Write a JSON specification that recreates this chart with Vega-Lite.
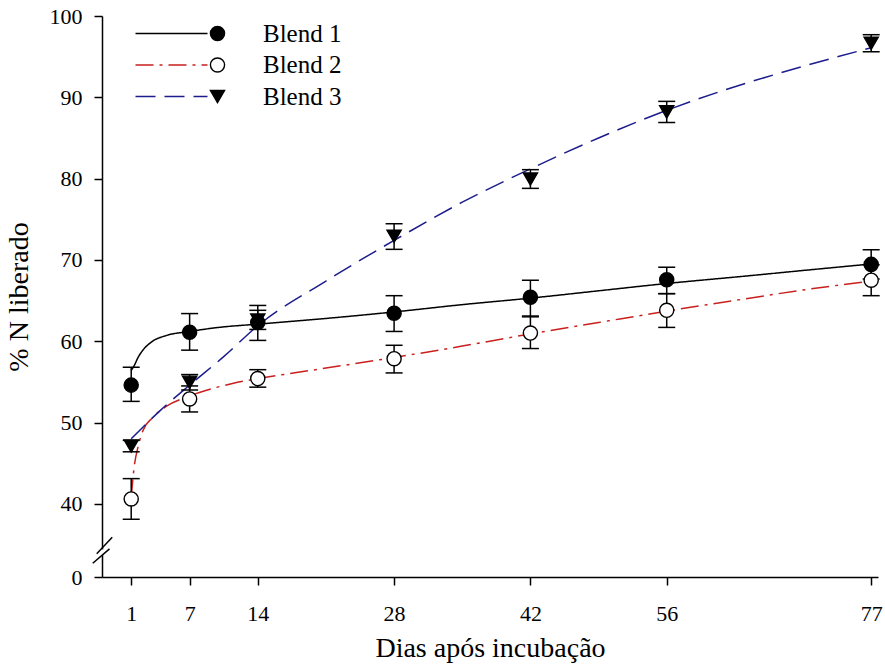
{
  "$schema": "https://vega.github.io/schema/vega-lite/v6.json",
  "width": 776,
  "height": 561,
  "autosize": {"type": "none"},
  "padding": {"left": 102, "top": 16, "right": 7, "bottom": 88},
  "background": "white",
  "config": {
    "view": {"stroke": null},
    "font": "Liberation Serif",
    "axis": {"labelFont": "Liberation Serif", "titleFont": "Liberation Serif", "labelColor": "black", "titleColor": "black", "domainColor": "black", "tickColor": "black", "titleFontWeight": "normal"}
  },
  "datasets": {
    "curves": [
      {"blend": "Blend 1", "day": 1, "pct": 56.4},
      {"blend": "Blend 1", "day": 1.35, "pct": 57.1},
      {"blend": "Blend 1", "day": 1.7, "pct": 58.0},
      {"blend": "Blend 1", "day": 2.2, "pct": 58.9},
      {"blend": "Blend 1", "day": 3.2, "pct": 60.0},
      {"blend": "Blend 1", "day": 4.6, "pct": 60.7},
      {"blend": "Blend 1", "day": 7, "pct": 61.2},
      {"blend": "Blend 1", "day": 10, "pct": 61.7},
      {"blend": "Blend 1", "day": 14, "pct": 62.1},
      {"blend": "Blend 1", "day": 21, "pct": 62.8},
      {"blend": "Blend 1", "day": 28, "pct": 63.6},
      {"blend": "Blend 1", "day": 35, "pct": 64.5},
      {"blend": "Blend 1", "day": 42, "pct": 65.3},
      {"blend": "Blend 1", "day": 49, "pct": 66.2},
      {"blend": "Blend 1", "day": 56, "pct": 67.1},
      {"blend": "Blend 1", "day": 64, "pct": 68.0},
      {"blend": "Blend 1", "day": 70, "pct": 68.7},
      {"blend": "Blend 1", "day": 77, "pct": 69.5},
      {"blend": "Blend 2", "day": 1, "pct": 40.8},
      {"blend": "Blend 2", "day": 1.3, "pct": 44.5},
      {"blend": "Blend 2", "day": 1.7, "pct": 47.0},
      {"blend": "Blend 2", "day": 2.2, "pct": 49.0},
      {"blend": "Blend 2", "day": 3.2, "pct": 50.6},
      {"blend": "Blend 2", "day": 4.6, "pct": 52.0},
      {"blend": "Blend 2", "day": 6.6, "pct": 53.1},
      {"blend": "Blend 2", "day": 8, "pct": 53.7},
      {"blend": "Blend 2", "day": 11.4, "pct": 54.8},
      {"blend": "Blend 2", "day": 14, "pct": 55.4},
      {"blend": "Blend 2", "day": 18.3, "pct": 56.2},
      {"blend": "Blend 2", "day": 21, "pct": 56.7},
      {"blend": "Blend 2", "day": 28, "pct": 58.0},
      {"blend": "Blend 2", "day": 35, "pct": 59.4},
      {"blend": "Blend 2", "day": 42, "pct": 60.9},
      {"blend": "Blend 2", "day": 49, "pct": 62.3},
      {"blend": "Blend 2", "day": 56, "pct": 63.7},
      {"blend": "Blend 2", "day": 64, "pct": 65.2},
      {"blend": "Blend 2", "day": 70, "pct": 66.3},
      {"blend": "Blend 2", "day": 77, "pct": 67.4},
      {"blend": "Blend 3", "day": 1, "pct": 48.0},
      {"blend": "Blend 3", "day": 4, "pct": 51.5},
      {"blend": "Blend 3", "day": 7, "pct": 54.6},
      {"blend": "Blend 3", "day": 10.5, "pct": 58.1},
      {"blend": "Blend 3", "day": 14, "pct": 61.9},
      {"blend": "Blend 3", "day": 21, "pct": 67.4},
      {"blend": "Blend 3", "day": 28, "pct": 72.4},
      {"blend": "Blend 3", "day": 35, "pct": 77.1},
      {"blend": "Blend 3", "day": 42, "pct": 81.2},
      {"blend": "Blend 3", "day": 49, "pct": 85.0},
      {"blend": "Blend 3", "day": 56, "pct": 88.4},
      {"blend": "Blend 3", "day": 63, "pct": 91.3},
      {"blend": "Blend 3", "day": 70, "pct": 93.8},
      {"blend": "Blend 3", "day": 77, "pct": 96.1}
    ],
    "obs": [
      {"serie": "Blend 1", "day": 1, "mean": 54.6, "lo": 52.6, "hi": 56.8},
      {"serie": "Blend 1", "day": 7, "mean": 61.1, "lo": 58.9, "hi": 63.4},
      {"serie": "Blend 1", "day": 14, "mean": 62.3, "lo": 60.1, "hi": 64.4},
      {"serie": "Blend 1", "day": 28, "mean": 63.45, "lo": 61.2, "hi": 65.6},
      {"serie": "Blend 1", "day": 42, "mean": 65.4, "lo": 63.1, "hi": 67.5},
      {"serie": "Blend 1", "day": 56, "mean": 67.55, "lo": 65.85, "hi": 69.1},
      {"serie": "Blend 1", "day": 77, "mean": 69.45, "lo": 67.65, "hi": 71.25},
      {"serie": "Blend 2", "day": 1, "mean": 40.6, "lo": 38.1, "hi": 43.1},
      {"serie": "Blend 2", "day": 7, "mean": 52.9, "lo": 51.3, "hi": 54.5},
      {"serie": "Blend 2", "day": 14, "mean": 55.4, "lo": 54.35, "hi": 56.5},
      {"serie": "Blend 2", "day": 28, "mean": 57.85, "lo": 56.1, "hi": 59.5},
      {"serie": "Blend 2", "day": 42, "mean": 61.0, "lo": 59.1, "hi": 63.0},
      {"serie": "Blend 2", "day": 56, "mean": 63.8, "lo": 61.7, "hi": 65.85},
      {"serie": "Blend 2", "day": 77, "mean": 67.5, "lo": 65.6, "hi": 69.4},
      {"serie": "Blend 3", "day": 1, "mean": 47.1, "lo": 46.4, "hi": 47.8},
      {"serie": "Blend 3", "day": 7, "mean": 54.95, "lo": 54.0, "hi": 55.9},
      {"serie": "Blend 3", "day": 14, "mean": 62.6, "lo": 61.45, "hi": 63.8},
      {"serie": "Blend 3", "day": 28, "mean": 72.9, "lo": 71.3, "hi": 74.45},
      {"serie": "Blend 3", "day": 42, "mean": 79.95, "lo": 78.8, "hi": 81.1},
      {"serie": "Blend 3", "day": 56, "mean": 88.2, "lo": 86.9, "hi": 89.5},
      {"serie": "Blend 3", "day": 77, "mean": 96.65, "lo": 95.6, "hi": 97.7}
    ],
    "axisbreak": [
      {"part": "gap", "x1": -2, "y1": 33.7, "x2": -2, "y2": 34.4},
      {"part": "slash", "x1": -2.95, "y1": 32.69, "x2": -1.23, "y2": 34.46},
      {"part": "slash", "x1": -2.54, "y1": 33.85, "x2": -0.95, "y2": 35.89}
    ]
  },
  "layer": [
    {
      "data": {"name": "curves"},
      "mark": {"type": "line", "strokeWidth": 1.5, "interpolate": "monotone"},
      "encoding": {
        "x": {
          "field": "day", "type": "quantitative",
          "scale": {"domain": [-2, 77.7], "nice": false, "zero": false},
          "axis": {"values": [1, 7, 14, 28, 42, 56, 77], "title": "Dias após incubação", "grid": false, "labelFontSize": 22, "titleFontSize": 28, "tickSize": 8, "tickWidth": 1.5, "domainWidth": 1.5, "labelPadding": 18, "titlePadding": 10, "labelFlush": false}
        },
        "y": {
          "field": "pct", "type": "quantitative",
          "scale": {"domain": [31, 100], "nice": false, "zero": false},
          "axis": {"values": [31, 40, 50, 60, 70, 80, 90, 100], "labelExpr": "datum.value < 35 ? '0' : datum.label", "title": "% N liberado", "grid": false, "labelFontSize": 22, "titleFontSize": 28, "tickSize": 8, "tickWidth": 1.5, "domainWidth": 1.5, "labelPadding": 12, "titlePadding": 16, "labelFlush": false}
        },
        "color": {
          "field": "blend", "type": "nominal",
          "scale": {"range": ["#000000", "#c8201e", "#1c1c8c"]},
          "legend": {"orient": "none", "legendX": 57, "legendY": 5, "title": null, "symbolType": "M-4,0H4", "symbolSize": 324, "symbolStrokeWidth": 1.5, "labelFontSize": 25, "labelFont": "Liberation Serif", "labelColor": "black", "labelOffset": 79, "rowPadding": 5.5, "padding": 0}
        },
        "strokeDash": {
          "field": "blend", "type": "nominal",
          "scale": {"range": [[1, 0], [18, 6, 3, 6], [20, 9]]},
          "legend": {"orient": "none", "legendX": 57, "legendY": 5, "title": null, "symbolType": "M-4,0H4", "symbolSize": 324, "symbolStrokeWidth": 1.5, "labelFontSize": 25, "labelFont": "Liberation Serif", "labelColor": "black", "labelOffset": 79, "rowPadding": 5.5, "padding": 0}
        }
      }
    },
    {
      "data": {"name": "obs"},
      "mark": {"type": "rule", "color": "black", "strokeWidth": 1.5},
      "encoding": {
        "x": {"field": "day", "type": "quantitative"},
        "y": {"field": "lo", "type": "quantitative"},
        "y2": {"field": "hi"}
      }
    },
    {
      "data": {"name": "obs"},
      "mark": {"type": "tick", "orient": "horizontal", "color": "black", "thickness": 1.5, "size": 17, "opacity": 1},
      "encoding": {
        "x": {"field": "day", "type": "quantitative"},
        "y": {"field": "lo", "type": "quantitative"}
      }
    },
    {
      "data": {"name": "obs"},
      "mark": {"type": "tick", "orient": "horizontal", "color": "black", "thickness": 1.5, "size": 17, "opacity": 1},
      "encoding": {
        "x": {"field": "day", "type": "quantitative"},
        "y": {"field": "hi", "type": "quantitative"}
      }
    },
    {
      "data": {"name": "obs"},
      "mark": {"type": "point", "filled": true, "stroke": "black", "strokeWidth": 1.4, "size": 200, "opacity": 1},
      "encoding": {
        "x": {"field": "day", "type": "quantitative"},
        "y": {"field": "mean", "type": "quantitative"},
        "shape": {
          "field": "serie", "type": "nominal",
          "scale": {"range": ["circle", "circle", "triangle-down"]},
          "legend": {"orient": "none", "legendX": 103, "legendY": 5, "title": null, "symbolSize": 200, "symbolStrokeWidth": 1.4, "symbolStrokeColor": "black", "labelExpr": "''", "labelFontSize": 25, "labelOffset": 0, "rowPadding": 5.5, "padding": 0, "symbolOpacity": 1, "encode": {"symbols": {"update": {"stroke": {"value": "black"}, "strokeWidth": {"value": 1.4}}}}}
        },
        "fill": {
          "field": "serie", "type": "nominal",
          "scale": {"range": ["#000000", "#ffffff", "#000000"]},
          "legend": {"orient": "none", "legendX": 103, "legendY": 5, "title": null, "symbolSize": 200, "symbolStrokeWidth": 1.4, "symbolStrokeColor": "black", "labelExpr": "''", "labelFontSize": 25, "labelOffset": 0, "rowPadding": 5.5, "padding": 0, "symbolOpacity": 1, "encode": {"symbols": {"update": {"stroke": {"value": "black"}, "strokeWidth": {"value": 1.4}}}}}
        }
      }
    },
    {
      "data": {"name": "axisbreak"},
      "transform": [{"filter": "datum.part == 'gap'"}],
      "mark": {"type": "rule", "color": "white", "strokeWidth": 4, "clip": false},
      "encoding": {
        "x": {"field": "x1", "type": "quantitative"},
        "y": {"field": "y1", "type": "quantitative"},
        "x2": {"field": "x2"},
        "y2": {"field": "y2"}
      }
    },
    {
      "data": {"name": "axisbreak"},
      "transform": [{"filter": "datum.part == 'slash'"}],
      "mark": {"type": "rule", "color": "black", "strokeWidth": 1.5, "clip": false},
      "encoding": {
        "x": {"field": "x1", "type": "quantitative"},
        "y": {"field": "y1", "type": "quantitative"},
        "x2": {"field": "x2"},
        "y2": {"field": "y2"}
      }
    }
  ]
}
